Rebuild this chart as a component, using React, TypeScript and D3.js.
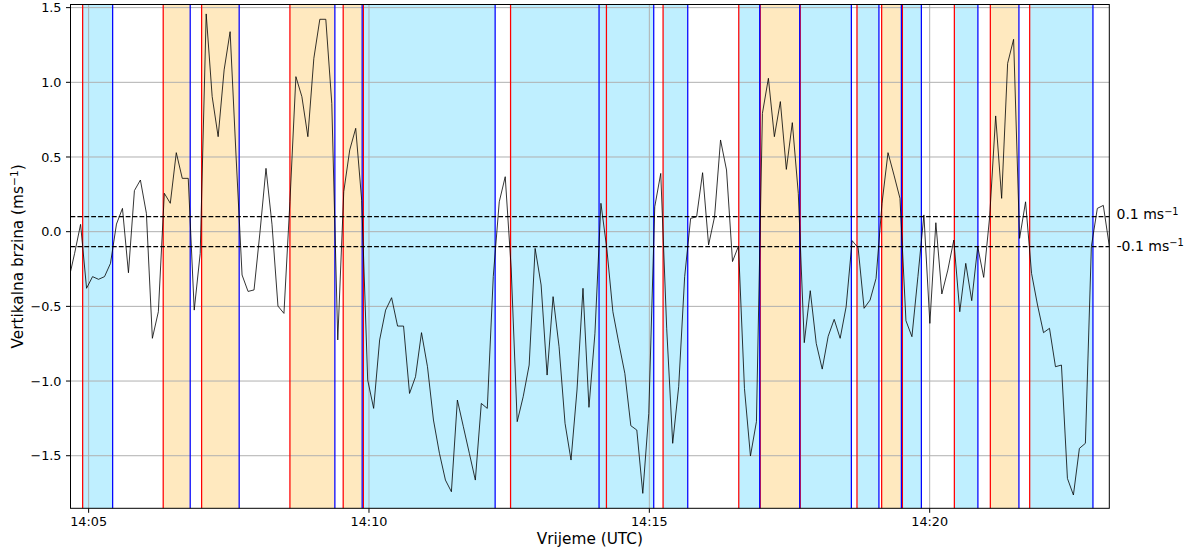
import React from "react";
import * as d3 from "d3";

const WIDTH = 1192;
const HEIGHT = 551;
const PLOT = { left: 70.5, right: 1109.3, top: 4.5, bottom: 508.3 };
const FONT = "'DejaVu Sans', 'Liberation Sans', sans-serif";

// Sample clock, seconds after 14:00:00 UTC
const firstSampleSec = 280.6;
const regularStartSec = 285.0;
const samplePeriodSec = 6.4;

// Vertical velocity (m/s)
const verticalVelocity: number[] = [
  -0.268,
  -0.145, 0.049, -0.379, -0.301, -0.319, -0.301, -0.212, 0.051, 0.156, -0.275,
  0.275, 0.346, 0.123, -0.714, -0.536, 0.257, 0.19, 0.529, 0.357, 0.357,
  -0.525, -0.145, 1.458, 0.904, 0.636, 1.083, 1.339, 0.5, -0.29, -0.4,
  -0.39, 0.0, 0.424, 0.05, -0.498, -0.547, 0.2, 1.038, 0.904, 0.636,
  1.161, 1.422, 1.422, 0.859, -0.725, 0.268, 0.547, 0.692, 0.21, -0.993,
  -1.183, -0.725, -0.525, -0.442, -0.632, -0.632, -1.083, -0.971, -0.676, -0.904,
  -1.261, -1.484, -1.663, -1.741, -1.127, -1.306, -1.484, -1.663, -1.15, -1.183,
  -0.3, 0.2, 0.368, -0.25, -1.272, -1.105, -0.893, -0.112, -0.357, -0.96,
  -0.435, -0.77, -1.283, -1.529, -1.06, -0.379, -1.176, -0.68, 0.19, -0.12,
  -0.536, -0.748, -0.949, -1.299, -1.328, -1.752, -1.217, 0.167, 0.39, -0.65,
  -1.417, -1.038, -0.301, 0.089, 0.1, 0.395, -0.089, 0.1, 0.614, 0.413,
  -0.2, -0.096, -1.05, -1.502, -1.272, 0.792, 1.027, 0.636, 0.871, 0.417,
  0.73, 0.257, -0.743, -0.395, -0.748, -0.92, -0.7, -0.587, -0.714, -0.502,
  -0.06, -0.107, -0.513, -0.458, -0.313, 0.19, 0.529, 0.379, 0.223, -0.596,
  -0.703, -0.301, 0.112, -0.614, 0.06, -0.417, -0.257, -0.056, -0.536, -0.212,
  -0.462, -0.1, -0.306, 0.1, 0.775, 0.223, 1.127, 1.288, -0.045, 0.2,
  -0.279, -0.491, -0.676, -0.647, -0.904, -0.893, -1.652, -1.763, -1.451, -1.417,
  -0.1, 0.156, 0.176, -0.096,
];

const sampleSec = verticalVelocity.map((_, i) =>
  i === 0 ? firstSampleSec : regularStartSec + (i - 1) * samplePeriodSec
);

// Event periods (seconds after 14:00:00 UTC)
const updraftSpans: [number, number][] = [
  [379.8, 408.7], [420.9, 461.1], [515.4, 563.5], [572.4, 592.7],
  [1018.7, 1060.9], [1148.6, 1169.7], [1264.9, 1295.5],
];
const downdraftSpans: [number, number][] = [
  [293.6, 325.7], [594.0, 735.0], [751.5, 904.7], [914.7, 941.1],
  [995.7, 1018.1], [1061.5, 1116.2], [1122.2, 1145.7], [1170.8, 1191.1],
  [1226.4, 1251.6], [1307.0, 1374.7],
];
const eventStarts = [
  293.6, 379.8, 420.9, 515.4, 572.4, 594.0, 751.5, 854.1, 914.7,
  995.7, 1018.7, 1061.5, 1122.2, 1148.6, 1170.8, 1226.4, 1264.9, 1307.0,
];
const eventEnds = [
  325.7, 408.7, 461.1, 563.5, 592.7, 735.0, 846.2, 904.7, 941.1,
  1018.1, 1060.9, 1116.2, 1145.7, 1169.7, 1191.1, 1251.6, 1295.5, 1374.7,
];

const thresholds = [0.1, -0.1];
const thresholdLabels = ["0.1", "-0.1"];
const yTicks = [-1.5, -1.0, -0.5, 0.0, 0.5, 1.0, 1.5];
const yDomain: [number, number] = [-1.852, 1.521];

const BASE = Date.UTC(2019, 5, 1, 14, 0, 0);
const toDate = (s: number) => new Date(BASE + s * 1000);

export default function App() {
  const times = sampleSec.map(toDate);
  const x = d3
    .scaleUtc()
    .domain(d3.extent(times) as [Date, Date])
    .range([PLOT.left, PLOT.right]);
  const y = d3.scaleLinear().domain(yDomain).range([PLOT.bottom, PLOT.top]);

  const xTicks = x.ticks(d3.utcMinute.every(5) as d3.TimeInterval);
  const fmtTime = d3.utcFormat("%H:%M");
  const fmtY = d3.format(".1f");

  const line = d3
    .line<number>()
    .x((_, i) => x(times[i]))
    .y((d) => y(d));

  const plotW = PLOT.right - PLOT.left;
  const plotH = PLOT.bottom - PLOT.top;

  return (
    <div style={{ position: "absolute", left: 0, top: 0 }}>
      <svg width={WIDTH} height={HEIGHT} style={{ display: "block", background: "#fff" }} fontFamily={FONT}>
        <defs>
          <clipPath id="plot-clip">
            <rect x={PLOT.left} y={PLOT.top} width={plotW} height={plotH} />
          </clipPath>
        </defs>

        {/* shaded periods */}
        <g>
          {downdraftSpans.map(([a, b], i) => (
            <rect key={"d" + i} x={x(toDate(a))} y={PLOT.top} width={x(toDate(b)) - x(toDate(a))} height={plotH} fill="#bfefff" />
          ))}
          {updraftSpans.map(([a, b], i) => (
            <rect key={"u" + i} x={x(toDate(a))} y={PLOT.top} width={x(toDate(b)) - x(toDate(a))} height={plotH} fill="#ffe9bf" />
          ))}
        </g>

        {/* grid */}
        <g stroke="#b0b0b0" strokeWidth={1}>
          {yTicks.map((t) => (
            <line key={"gy" + t} x1={PLOT.left} x2={PLOT.right} y1={y(t)} y2={y(t)} />
          ))}
          {xTicks.map((t) => (
            <line key={"gx" + t.getTime()} x1={x(t)} x2={x(t)} y1={PLOT.top} y2={PLOT.bottom} />
          ))}
        </g>

        {/* event boundaries */}
        <g strokeWidth={1.25}>
          {eventStarts.map((s, i) => (
            <line key={"s" + i} x1={x(toDate(s))} x2={x(toDate(s))} y1={PLOT.top} y2={PLOT.bottom} stroke="#ff0000" />
          ))}
          {eventEnds.map((s, i) => (
            <line key={"e" + i} x1={x(toDate(s))} x2={x(toDate(s))} y1={PLOT.top} y2={PLOT.bottom} stroke="#0000ff" />
          ))}
        </g>

        {/* threshold lines */}
        <g stroke="#000" strokeWidth={1.25} strokeDasharray="4.8,2.1">
          {thresholds.map((t) => (
            <line key={"th" + t} x1={PLOT.left} x2={PLOT.right} y1={y(t)} y2={y(t)} />
          ))}
        </g>

        {/* vertical velocity series */}
        <path d={line(verticalVelocity) || ""} fill="none" stroke="#000" strokeWidth={0.8} clipPath="url(#plot-clip)" />

        {/* axes frame */}
        <rect x={PLOT.left} y={PLOT.top} width={plotW} height={plotH} fill="none" stroke="#000" strokeWidth={1} />

        {/* y axis */}
        <g fontSize={12.8} fill="#000">
          {yTicks.map((t) => (
            <g key={"yt" + t}>
              <line x1={PLOT.left - 4.5} x2={PLOT.left} y1={y(t)} y2={y(t)} stroke="#000" strokeWidth={1} />
              <text x={PLOT.left - 9} y={y(t) + 4.6} textAnchor="end">
                {fmtY(t)}
              </text>
            </g>
          ))}
        </g>

        {/* x axis */}
        <g fontSize={12.8} fill="#000">
          {xTicks.map((t) => (
            <g key={"xt" + t.getTime()}>
              <line x1={x(t)} x2={x(t)} y1={PLOT.bottom} y2={PLOT.bottom + 4.5} stroke="#000" strokeWidth={1} />
              <text x={x(t)} y={526} textAnchor="middle">
                {fmtTime(t)}
              </text>
            </g>
          ))}
        </g>

        {/* threshold labels */}
        <g fontSize={14} fill="#000">
          {thresholds.map((t, i) => (
            <text key={"tl" + t} x={1116.5} y={y(t) + (t > 0 ? 2.6 : 4.2)}>
              {thresholdLabels[i]} ms
              <tspan dy={-4.4} fontSize={9.8}>−1</tspan>
            </text>
          ))}
        </g>

        {/* axis titles */}
        <text x={(PLOT.left + PLOT.right) / 2} y={544.3} textAnchor="middle" fontSize={15.3} fill="#000">
          Vrijeme (UTC)
        </text>
        <text
          transform={`translate(22.7, ${(PLOT.top + PLOT.bottom) / 2}) rotate(-90)`}
          textAnchor="middle"
          fontSize={15.3}
          fill="#000"
        >
          Vertikalna brzina (ms
          <tspan dy={-5} fontSize={10.7}>−1</tspan>
          <tspan dy={5}>)</tspan>
        </text>
      </svg>
    </div>
  );
}
